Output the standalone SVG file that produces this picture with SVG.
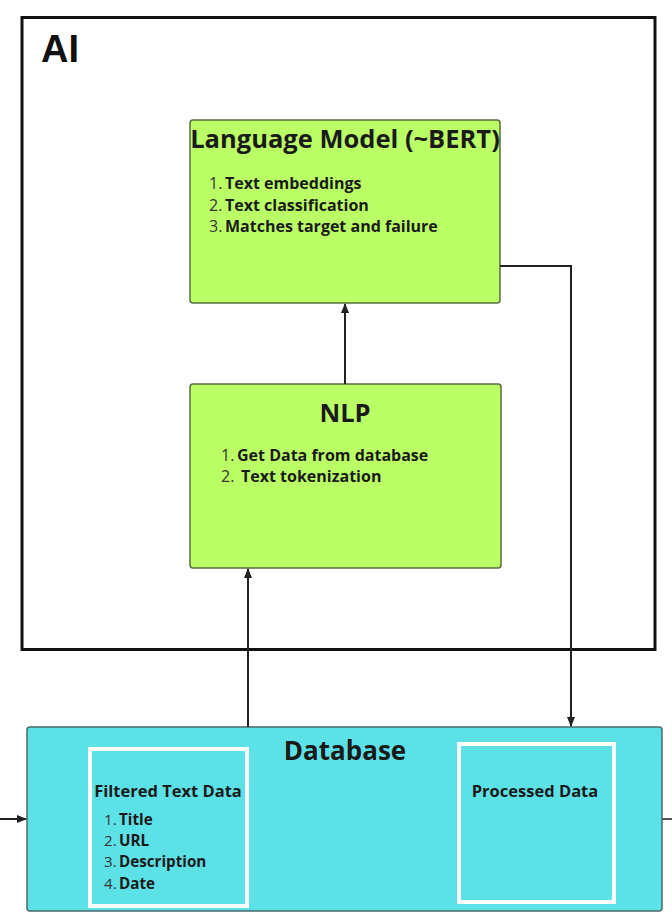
<svg xmlns="http://www.w3.org/2000/svg" width="672" height="918" viewBox="0 0 672 918">
<style>
.box{stroke:#5a6b3e;stroke-width:1.5}
.green{fill:#bbff66}
.cyan{fill:#5ce1e6;stroke:#4a6a6c;stroke-width:1.5}
.frame{fill:none;stroke:#ffffff;stroke-width:4}
.t{font-family:"Open Sans","DejaVu Sans",sans-serif;font-weight:700;fill:#1a1a1a}
.n{font-weight:400;fill:#333}
.conn{fill:none;stroke:#222;stroke-width:2}
</style>
<defs>
<marker id="arr" viewBox="0 0 10 10" refX="9" refY="5" markerWidth="5" markerHeight="5" orient="auto">
<path d="M0,1 L10,5 L0,9 z" fill="#222"/>
</marker>
</defs>
<rect width="672" height="918" fill="#ffffff"/>
<g id="ai">
<rect x="22" y="17.5" width="633" height="632" fill="#ffffff" stroke="#111" stroke-width="3"/>
<text x="41" y="62" font-family="Liberation Sans, Arial, sans-serif" font-weight="700" font-size="38" fill="#111">AI</text>
</g>
<g id="lm">
<rect class="box green" x="190" y="120" width="310" height="183" rx="3"/>
<text class="t" x="345" y="148" font-size="25.5" text-anchor="middle">Language Model (~BERT)</text>
<text class="t" font-size="16"><tspan class="n" x="209" y="189">1.</tspan><tspan x="225">Text embeddings</tspan><tspan class="n" x="209" y="211">2.</tspan><tspan x="225">Text classification</tspan><tspan class="n" x="209" y="232">3.</tspan><tspan x="225">Matches target and failure</tspan></text>
</g>
<g id="nlp">
<rect class="box green" x="190" y="384" width="311" height="184" rx="3"/>
<text class="t" x="345" y="422" font-size="25.5" text-anchor="middle">NLP</text>
<text class="t" font-size="16"><tspan class="n" x="221" y="461">1.</tspan><tspan x="237">Get Data from database</tspan><tspan class="n" x="221" y="482">2.</tspan><tspan x="241">Text tokenization</tspan></text>
</g>
<g id="database">
<rect class="cyan" x="27" y="727" width="635" height="184" rx="3"/>
<text class="t" x="345" y="760" font-size="26" text-anchor="middle">Database</text>
</g>
<g id="filtered">
<rect class="frame" x="90" y="749" width="157" height="157"/>
<text class="t" x="168" y="797" font-size="16.5" text-anchor="middle">Filtered Text Data</text>
<text class="t" font-size="15.2"><tspan class="n" x="104" y="825">1.</tspan><tspan x="119">Title</tspan><tspan class="n" x="104" y="846">2.</tspan><tspan x="119">URL</tspan><tspan class="n" x="104" y="867">3.</tspan><tspan x="119">Description</tspan><tspan class="n" x="104" y="889">4.</tspan><tspan x="119">Date</tspan></text>
</g>
<g id="processed">
<rect class="frame" x="459" y="744" width="155" height="158"/>
<text class="t" x="535" y="797" font-size="16.5" text-anchor="middle">Processed Data</text>
</g>
<g id="connectors">
<path class="conn" d="M345,384 L345,304" marker-end="url(#arr)"/>
<path class="conn" d="M248,727 L248,569" marker-end="url(#arr)"/>
<path class="conn" d="M500,266 L571,266 L571,726" marker-end="url(#arr)"/>
<path class="conn" d="M0,819 L26,819" marker-end="url(#arr)"/>
<path d="M662,819 L672,819" stroke="#555" stroke-width="2"/>
</g>
</svg>
